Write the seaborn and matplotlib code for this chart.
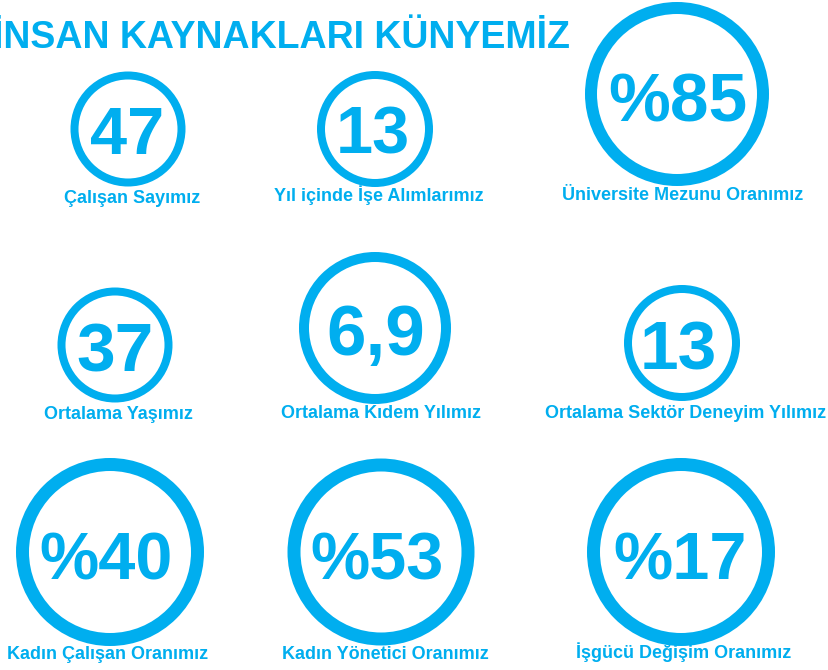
import matplotlib
matplotlib.use("Agg")
import matplotlib.pyplot as plt
from matplotlib.patches import Ellipse
import seaborn as sns

sns.set_theme(style="white")
plt.rcParams['font.family'] = ['Liberation Sans', 'DejaVu Sans']

title = "İNSAN KAYNAKLARI KÜNYEMİZ"
values = ["47", "13", "%85", "37", "6,9", "13", "%40", "%53", "%17"]
labels = ["Çalışan Sayımız", "Yıl içinde İşe Alımlarımız", "Üniversite Mezunu Oranımız",
          "Ortalama Yaşımız", "Ortalama Kıdem Yılımız", "Ortalama Sektör Deneyim Yılımız",
          "Kadın Çalışan Oranımız", "Kadın Yönetici Oranımız", "İşgücü Değişim Oranımız"]

# layout (pixel space)
cx = [128, 375, 677, 115, 375, 682, 110, 381, 681]
cy = [129, 129, 94, 345, 328, 343, 552, 552, 552]
diam = [107, 108, 172, 107, 142, 108, 175, 174, 175]
lw_px = [8, 8, 12, 8, 10, 8, 13, 13, 13]
num_x = [127, 373, 678, 115, 376, 678, 106, 377, 680]
num_base = [154, 154, 122, 371, 355, 370, 580, 580, 580]
num_size = [48, 48, 50, 50, 51, 50, 48, 48, 48]
lab_x = [132, 379, 683, 118, 381, 686, 108, 385, 684]
lab_base = [203, 201, 200, 419, 418, 418, 659, 659, 658]

COLOR = "#00AEEF"
W, H = 829, 670
fig = plt.figure(figsize=(W / 100, H / 100), dpi=100)
ax = fig.add_axes([0, 0, 1, 1])
ax.set_xlim(0, W)
ax.set_ylim(H, 0)
ax.axis("off")

ax.text(570, 48, title, ha="right", va="baseline", fontsize=27,
        fontweight="bold", color=COLOR)

for i in range(len(values)):
    ax.add_patch(Ellipse((cx[i], cy[i]), diam[i], diam[i], fill=False,
                         edgecolor=COLOR, linewidth=lw_px[i] * 0.72))
    ax.text(num_x[i], num_base[i], values[i], ha="center", va="baseline",
            fontsize=num_size[i], fontweight="bold", color=COLOR)
    ax.text(lab_x[i], lab_base[i], labels[i], ha="center", va="baseline",
            fontsize=13, fontweight="bold", color=COLOR)

fig.savefig("out.png", dpi=100)
